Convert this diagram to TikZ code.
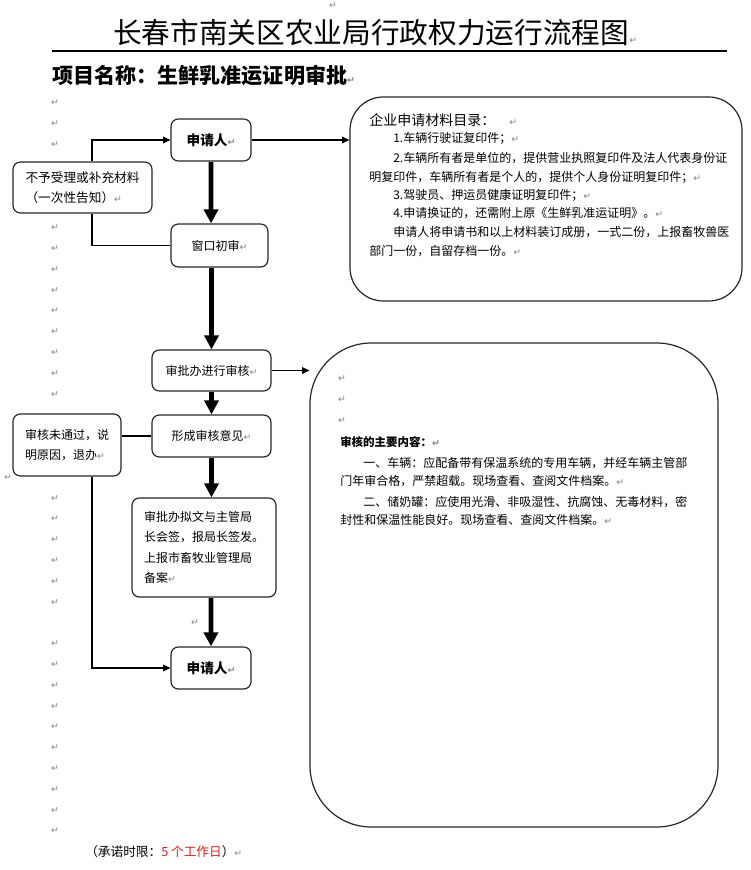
\documentclass[tikz,border=0pt]{standalone}
\usepackage{fontspec}
\usetikzlibrary{arrows.meta,calc}
\setmainfont{Noto Sans CJK SC}
\newfontfamily\hei{Noto Sans CJK SC}
\newfontfamily\song{Noto Sans CJK SC}
\newfontfamily\kai{Noto Sans CJK SC}
\newfontfamily\dv{DejaVu Sans}
\definecolor{retgray}{RGB}{128,128,128}
\definecolor{deadline}{RGB}{205,35,35}
\newcommand{\rt}{{\dv\fontsize{7pt}{7pt}\selectfont\color{retgray}↵}}
\begin{document}
\begin{tikzpicture}[x=0.75pt,y=-0.75pt,
  box/.style={draw=black!85, line width=0.9pt, rounded corners=5.5pt, inner sep=0pt,
    align=center, font=\hei\fontsize{9pt}{15pt}\selectfont},
  bigbox/.style={draw=black!85, line width=0.9pt, inner sep=0pt},
  txt/.style={inner sep=0pt, anchor=west},
  songtxt/.style={txt, font=\song\fontsize{9pt}{11pt}\selectfont},
  ret/.style={inner sep=0pt, font=\dv\fontsize{7pt}{7pt}\selectfont, text=retgray},
  tharrow/.style={line width=3.2pt, black, -{Triangle[width=10.5pt,length=10.5pt]},
    preaction={draw, line width=4.4pt, gray!70, -, shorten >=10pt}},
  tarrow/.style={line width=0.9pt, black, -{Triangle[width=5pt,length=5.5pt]}},
  tline/.style={line width=0.9pt, black}]
\useasboundingbox (0,0) rectangle (750,870);

% title and subtitle
\node[ret] (topret) at (333,6) {↵};
\node[txt, font=\hei\fontsize{21.5pt}{24pt}\selectfont] (title) at (113,33) {长春市南关区农业局行政权力运行流程图\rt};
\draw[line width=1.1pt] (52,51) -- (727,51);
\node[txt, font=\kai\bfseries\fontsize{15.8pt}{17pt}\selectfont] (sub) at (52,75) {项目名称：生鲜乳准运证明审批\rt};

% paragraph marks column
\foreach \k in {0,1,2,6,7,8,9,10,11,12,13,14,19,20,21,22,23,24,26,27,28,29,30,31,32,33,34,35}
  \node[ret] at (55,{103+20.8*\k}) {↵};
\node[ret] (retL2) at (8,477.4) {↵};
\node[ret] (retF) at (195,623) {↵};

% flow nodes
\node[box, minimum width=60pt, minimum height=31.5pt,
  font=\hei\bfseries\fontsize{10.25pt}{12pt}\selectfont] (a1) at (211,140) {申请人\rt};
\node[box, minimum width=72.75pt, minimum height=32.25pt] (b) at (219.5,245.5) {窗口初审\rt};
\node[box, minimum width=89.25pt, minimum height=30.75pt] (c) at (211.5,370.5) {审批办进行审核\rt};
\node[box, minimum width=89.25pt, minimum height=31.5pt] (d) at (211.5,436) {形成审核意见\rt};
\node[box, align=left, minimum width=108pt, minimum height=74.25pt,
  font=\hei\fontsize{9pt}{15.4pt}\selectfont] (e) at (204,547.5)
  {审批办拟文与主管局\\长会签，报局长签发。\\上报市畜牧业管理局\\备案\rt};
\node[box, minimum width=60pt, minimum height=31.5pt,
  font=\hei\bfseries\fontsize{10.25pt}{12pt}\selectfont] (f) at (211,668) {申请人\rt};
\node[box, align=left, minimum width=104.25pt, minimum height=38.25pt,
  font=\hei\fontsize{9.5pt}{15pt}\selectfont] (L1) at (82.5,187.5) {不予受理或补充材料\\（一次性告知）\rt};
\node[box, align=left, minimum width=81pt, minimum height=46.5pt,
  font=\hei\fontsize{9pt}{15pt}\selectfont] (L2) at (67,445) {审核未通过，说\\明原因，退办\rt};

% big boxes
\node[bigbox, rounded corners=25pt, minimum width=294pt, minimum height=153pt] (R1) at (546,199) {};
\node[bigbox, rounded corners=46pt, minimum width=306pt, minimum height=363pt] (R2) at (514,585) {};

% R1 text
\node[txt, font=\hei\fontsize{10.5pt}{12pt}\selectfont] (r1h) at (369,120) {企业申请材料目录：\quad\rt};
\node[songtxt] (r1a) at (393,138) {1.车辆行驶证复印件；\rt};
\node[songtxt] (r1b) at (393,158) {2.车辆所有者是单位的，提供营业执照复印件及法人代表身份证};
\node[songtxt] (r1c) at (369,177) {明复印件，车辆所有者是个人的，提供个人身份证明复印件；\rt};
\node[songtxt] (r1d) at (393,195) {3.驾驶员、押运员健康证明复印件；\rt};
\node[songtxt] (r1e) at (393,213) {4.申请换证的，还需附上原《生鲜乳准运证明》。\rt};
\node[songtxt] (r1f) at (393,232) {申请人将申请书和以上材料装订成册，一式二份，上报畜牧兽医};
\node[songtxt] (r1g) at (369,251) {部门一份，自留存档一份。\rt};

% R2 text
\node[ret] (r2r1) at (342,379) {↵};
\node[ret] (r2r2) at (342,400) {↵};
\node[ret] (r2r3) at (342,421) {↵};
\node[txt, font=\hei\bfseries\fontsize{8.6pt}{10pt}\selectfont] (r2h) at (340,442) {审核的主要内容：\rt};
\node[songtxt] (r2a) at (363,463) {一、车辆：应配备带有保温系统的专用车辆，并经车辆主管部};
\node[songtxt] (r2b) at (340,481) {门年审合格，严禁超载。现场查看、查阅文件档案。\rt};
\node[songtxt] (r2c) at (363,502) {二、储奶罐：应使用光滑、非吸湿性、抗腐蚀、无毒材料，密};
\node[songtxt] (r2d) at (340,520) {封性和保温性能良好。现场查看、查阅文件档案。\rt};

% footer
\node[txt, font=\hei\fontsize{9.5pt}{12pt}\selectfont] (foot) at (85,852)
  {（承诺时限：\textcolor{deadline}{5 个工作日}）\rt};

% connectors
\coordinate (vx) at (92,0);
\draw[tharrow] (a1.south) -- (a1.south |- b.north);
\draw[tharrow] (c.north |- b.south) -- (c.north);
\draw[tharrow] (c.south) -- (d.north);
\draw[tharrow] (d.south) -- (d.south |- e.north);
\draw[tharrow] (f.north |- e.south) -- (f.north);
\draw[tline] (b.west) -| (L1.south -| vx);
\draw[tarrow] (L1.north -| vx) |- (a1.west);
\draw[tarrow] (a1.east) -- (R1.west |- a1.east);
\draw[tarrow] (c.east) -- (R2.west |- c.east);
\draw[tline] (d.west) -- (L2.east |- d.west);
\draw[tarrow] (L2.south -| vx) |- (f.west);
\end{tikzpicture}
\end{document}
